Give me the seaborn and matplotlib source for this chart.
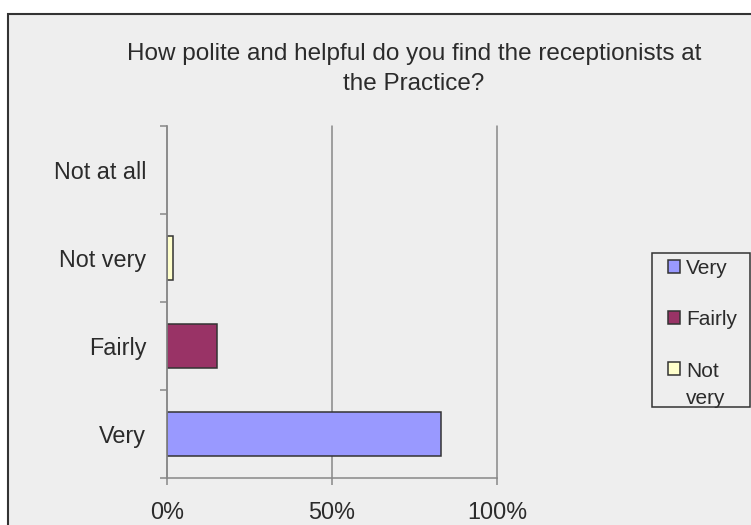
import matplotlib
matplotlib.use("Agg")
import matplotlib.pyplot as plt
from matplotlib import font_manager as fm
from matplotlib.patches import Patch, Rectangle
from matplotlib.legend_handler import HandlerPatch
from matplotlib.ticker import PercentFormatter
import numpy as np
import pandas as pd
import seaborn as sns

# Survey responses (share of respondents, %)
responses = ["Not at all", "Not very", "Fairly", "Very"]
shares = [0.0, 1.7, 15.3, 83.0]
legend_order = ["Very", "Fairly", "Not very"]
legend_labels = ["Very", "Fairly", "Not\nvery"]
colors = {"Very": "#9999FF", "Fairly": "#993366", "Not very": "#FFFFCC", "Not at all": "#CCFFFF"}
x_ticks = [0, 50, 100]
title = "How polite and helpful do you find the receptionists at\nthe Practice?"

sns.set_theme(style="white")

installed = {f.name for f in fm.fontManager.ttflist}
if "Liberation Sans Narrow" in installed:
    family = ["Liberation Sans Narrow", "DejaVu Sans"]
    fs_title, fs_tick, fs_leg = 20.2, 19.4, 17.5
else:
    family = ["Liberation Sans", "DejaVu Sans"]
    fs_title, fs_tick, fs_leg = 17.5, 16.8, 15.0
plt.rcParams["font.family"] = family

ink = "#2b2b2b"
axis_grey = "#888888"
edge = "#333333"

W, H = 751, 525
fig = plt.figure(figsize=(W / 100, H / 100), dpi=100, facecolor="white")

# chart-area panel with its dark border
fig.add_artist(Rectangle((8 / W, -0.1), 1.2, 1 - 14 / H + 0.1, transform=fig.transFigure,
                         facecolor="#EEEEEE", edgecolor=edge, lw=1.5, zorder=-10))

ax = fig.add_axes([167 / W, 1 - 478 / H, 330 / W, 352 / H])
ax.set_facecolor("none")

df = pd.DataFrame({"response": responses, "share": shares})
df = df[df["share"] > 0]

sns.barplot(data=df, x="share", y="response", hue="response", order=responses,
            hue_order=responses, palette=colors, saturation=1, dodge=False, width=0.51,
            edgecolor=edge, linewidth=1.1, legend=False, ax=ax)

ax.set_xlim(0, 100)
ax.set_ylim(3.5, -0.5)
ax.set_xlabel("")
ax.set_ylabel("")

ax.set_xticks(x_ticks)
ax.xaxis.set_major_formatter(PercentFormatter(decimals=0))
ax.set_yticks(np.arange(-0.5, 4.0, 1.0), minor=True)

ax.tick_params(axis="x", which="major", length=5, width=1.1, color=axis_grey,
               pad=11.5, labelsize=fs_tick, labelcolor=ink, bottom=True)
ax.tick_params(axis="y", which="major", length=0, pad=15, labelsize=fs_tick, labelcolor=ink)
ax.tick_params(axis="y", which="minor", length=5, width=1.1, color=axis_grey, left=True)

ax.set_axisbelow(True)
ax.grid(axis="x", color=axis_grey, lw=1.1)
ax.grid(axis="y", visible=False)
for gl in ax.get_xgridlines():
    gl.set_clip_on(False)

for side in ("top", "right"):
    ax.spines[side].set_visible(False)
for side in ("left", "bottom"):
    ax.spines[side].set_color(axis_grey)
    ax.spines[side].set_linewidth(1.1)

# baseline of the last title line
fig.text(414 / W, 1 - 90 / H, title, ha="center", va="baseline", fontsize=fs_title,
         color=ink, linespacing=1.48)


# legend swatch lifted to sit beside the first line of a wrapped label
def lifted_swatch(legend, orig_handle, xdescent, ydescent, width, height, fontsize):
    lift = 0.78 * fontsize if orig_handle.get_label() == "lift" else 0.0
    return Rectangle((-xdescent, -ydescent + lift), width, height)


handles = []
for name, text in zip(legend_order, legend_labels):
    h = Patch(facecolor=colors[name], edgecolor=edge, lw=1.1)
    if "\n" in text:
        h.set_label("lift")
    handles.append(h)

leg = ax.legend(handles, legend_labels, loc="upper left",
                bbox_to_anchor=(668 / W, 1 - 259 / H), bbox_transform=fig.transFigure,
                frameon=False, borderpad=0, borderaxespad=0, fontsize=fs_leg,
                handlelength=0.58, handleheight=0.58, handletextpad=0.3,
                labelspacing=1.55, labelcolor=ink,
                handler_map={Patch: HandlerPatch(patch_func=lifted_swatch)})
for t in leg.get_texts():
    t.set_linespacing(1.55)

fig.add_artist(Rectangle((652 / W, 1 - 407 / H), 98 / W, 154 / H, transform=fig.transFigure,
                         facecolor="none", edgecolor=edge, lw=1.1, zorder=5))

fig.savefig("out.png", dpi=100, facecolor="white")
